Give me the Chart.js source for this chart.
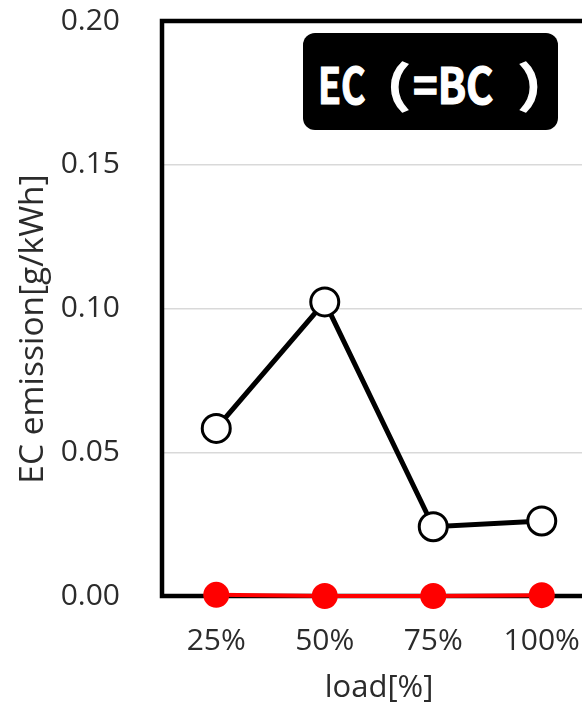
<!DOCTYPE html>
<html><head><meta charset="utf-8">
<script src="https://cdn.jsdelivr.net/npm/chart.js@4"></script>
<style>
html,body{margin:0;padding:0;overflow:hidden;background:#fff}
#wrap{width:600px;height:708px;position:relative}
#panel{position:absolute;left:303px;top:33px;width:255px;height:97px;border-radius:12px;background:#000;color:#fff;
  font-family:'Noto Sans CJK JP',sans-serif;font-weight:bold;font-size:52px;line-height:52px;white-space:nowrap;
  -webkit-text-stroke:1.3px #fff}
#panel span{position:absolute;display:inline-block;transform-origin:0 0}
</style>
</head><body><div id="wrap"><canvas id="c" width="600" height="708"></canvas><div id="panel"></div></div>
<script>
const categories = ['25%', '50%', '75%', '100%'];
const ecValues = [0.0583, 0.1023, 0.0241, 0.0261];
const ecRedValues = [0.0004, 0.0, 0.0, 0.0003];
const yTicks = [0, 0.05, 0.10, 0.15, 0.20];
const yAxisTitle = 'EC emission[g/kWh]';
const xAxisTitle = 'load[%]';
const panelLabel = 'EC（=BC）';

// panel label: one text string; its runs are fitted to the reference glyph boxes
(function () {
  const panel = document.getElementById('panel');
  const runs = panelLabel.match(/[（）]|[^（）]+/g);
  const boxes = [[321, 365, 67, 105], [391, 408, 62, 112], [415, 493, 67, 105], [520, 537, 62, 112]];
  const pL = 303, pT = 33, LH = 52;
  const mctx = document.createElement('canvas').getContext('2d');
  mctx.font = "bold 52px 'Noto Sans CJK JP', sans-serif";
  runs.forEach((t, i) => {
    const s = document.createElement('span');
    s.textContent = t;
    panel.appendChild(s);
    const b = boxes[i] || boxes[boxes.length - 1];
    const m = mctx.measureText(t);
    const inkL = -m.actualBoundingBoxLeft, inkR = m.actualBoundingBoxRight;
    const inkT = -m.actualBoundingBoxAscent, inkB = m.actualBoundingBoxDescent;
    const fA = m.fontBoundingBoxAscent, fD = m.fontBoundingBoxDescent;
    const sx = (b[1] - b[0]) / (inkR - inkL);
    const sy = (b[3] - b[2]) / (inkB - inkT);
    const bl = (LH - fA - fD) / 2 + fA;
    s.style.left = (b[0] - sx * inkL - pL).toFixed(2) + 'px';
    s.style.top = (b[2] - sy * (bl + inkT) - pT).toFixed(2) + 'px';
    s.style.transform = 'scale(' + sx.toFixed(4) + ',' + sy.toFixed(4) + ')';
  });
})();

const FAMILY = "'Open Sans', 'Noto Sans', sans-serif";
const TEXT_COLOR = '#2b2b2b';

const framePlugin = {
  id: 'frame',
  beforeDatasetsDraw(chart) {
    const {ctx, chartArea: a} = chart;
    ctx.save();
    ctx.strokeStyle = '#000';
    ctx.lineWidth = 4.5;
    ctx.strokeRect(a.left, a.top, a.right - a.left, a.bottom - a.top);
    ctx.restore();
  },
  afterDraw(chart) {
    const {ctx} = chart;
    ctx.save();
    ctx.translate(33, 329);
    ctx.rotate(-Math.PI / 2);
    ctx.fillStyle = TEXT_COLOR;
    ctx.font = "33.5px " + FAMILY;
    ctx.textAlign = 'center';
    ctx.textBaseline = 'middle';
    ctx.fillText(yAxisTitle, 0, 0);
    ctx.restore();
  }
};

new Chart(document.getElementById('c'), {
  type: 'line',
  data: {
    labels: categories,
    datasets: [
      {
        data: ecValues,
        borderColor: '#000',
        borderWidth: 5,
        pointRadius: 14,
        pointBackgroundColor: '#fff',
        pointBorderColor: '#000',
        pointBorderWidth: 3,
        tension: 0,
        clip: false
      },
      {
        data: ecRedValues,
        borderColor: '#ff0000',
        borderWidth: 4,
        pointRadius: 13,
        pointBackgroundColor: '#ff0000',
        pointBorderColor: '#ff0000',
        pointBorderWidth: 0,
        tension: 0,
        clip: false
      }
    ]
  },
  options: {
    responsive: false,
    animation: false,
    devicePixelRatio: 1,
    layout: {autoPadding: false, padding: {left: 0, top: 21, right: 4, bottom: 0}},
    plugins: {legend: {display: false}, tooltip: {enabled: false}},
    scales: {
      x: {
        offset: true,
        grid: {display: false, drawTicks: false},
        border: {display: false},
        ticks: {font: {family: FAMILY, size: 30}, color: TEXT_COLOR, padding: 27, maxRotation: 0},
        title: {display: true, text: xAxisTitle, font: {family: FAMILY, size: 31}, color: TEXT_COLOR, padding: {top: 0, bottom: 1}},
        afterFit(s) { s.height = 112; s.paddingLeft = 0; s.paddingRight = 0; }
      },
      y: {
        min: 0, max: 0.2,
        afterBuildTicks(s) { s.ticks = yTicks.map(v => ({value: v})); },
        grid: {
          drawTicks: false,
          color: (c) => (c.tick && c.tick.value > 0.001 && c.tick.value < 0.199) ? '#d9d9d9' : 'rgba(0,0,0,0)',
          lineWidth: 1.5
        },
        border: {display: false},
        ticks: {font: {family: FAMILY, size: 30}, color: TEXT_COLOR, padding: 42, callback: (v) => Number(v).toFixed(2)},
        afterFit(s) { s.width = 162; s.paddingTop = 0; s.paddingBottom = 0; }
      }
    }
  },
  plugins: [framePlugin]
});
</script>
</body></html>
